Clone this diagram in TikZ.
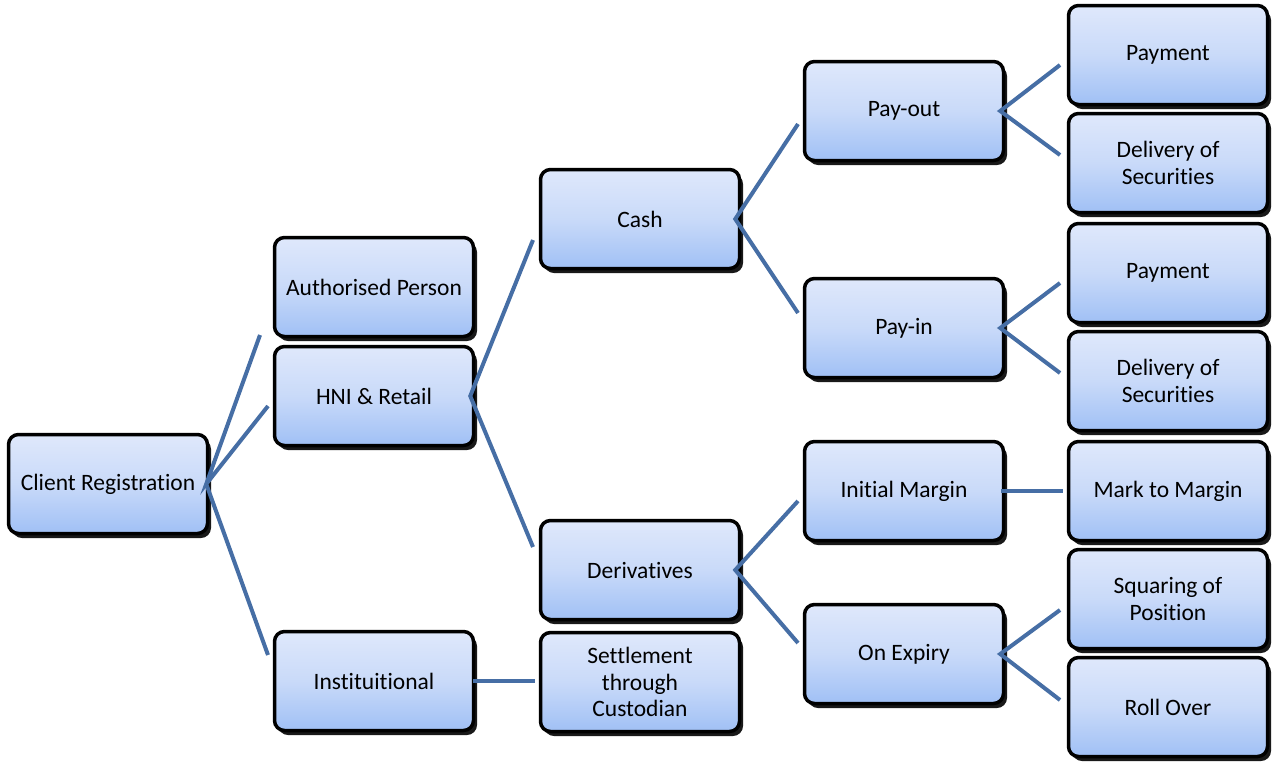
\documentclass[tikz,border=0pt]{standalone}
\usepackage{fontspec}
\setmainfont{Carlito}[Ligatures=NoCommon]
\usetikzlibrary{shadows}
\definecolor{boxtop}{RGB}{223,232,251}
\definecolor{boxmid}{RGB}{201,218,249}
\definecolor{boxbot}{RGB}{160,192,245}
\definecolor{linkblue}{RGB}{70,110,165}
\tikzset{
  box/.style={draw=black, line width=3.5pt, rounded corners=10pt,
    top color=boxtop, bottom color=boxbot, middle color=boxmid,
    minimum width=199pt, minimum height=99pt, inner sep=2pt,
    align=center, text=black,
    font=\fontsize{23.5}{26.5}\selectfont,
    drop shadow={shadow xshift=3.5pt, shadow yshift=-4.5pt, fill=black, opacity=0.9}},
  link/.style={draw=linkblue, line width=4pt}
}
\begin{document}
\begin{tikzpicture}[x=1pt,y=-1pt]
\useasboundingbox (0,0) rectangle (1277,764);
% column 1
\node[box] (client) at (108,484) {Client Registration};
% column 2
\node[box] (auth) at (374,287) {Authorised Person};
\node[box] (hni) at (374,396) {HNI \& Retail};
\node[box] (inst) at (374,681) {Instituitional};
% column 3
\node[box] (cash) at (640,219) {Cash};
\node[box] (deriv) at (640,570) {Derivatives};
\node[box] (settle) at (640,682) {Settlement\\through\\Custodian};
% column 4
\node[box] (payout) at (904,111) {Pay-out};
\node[box] (payin) at (904,328) {Pay-in};
\node[box] (initm) at (904,491) {Initial Margin};
\node[box] (expiry) at (904,654) {On Expiry};
% column 5
\node[box] (pay1) at (1168,55) {Payment};
\node[box] (del1) at (1168,163) {Delivery of\\Securities};
\node[box] (pay2) at (1168,273) {Payment};
\node[box] (del2) at (1168,381) {Delivery of\\Securities};
\node[box] (mtm) at (1168,491) {Mark to Margin};
\node[box] (square) at (1168,599) {Squaring of\\Position};
\node[box] (roll) at (1168,707) {Roll Over};
% free ends of connectors
\coordinate (c1a) at (260,335);
\coordinate (c1b) at (268,406);
\coordinate (c1c) at (268,655);
\coordinate (h1) at (533,240);
\coordinate (h2) at (533,547);
\coordinate (i1) at (535,681);
\coordinate (k1) at (798,124);
\coordinate (k2) at (798,313);
\coordinate (d1) at (798,501);
\coordinate (d2) at (798,643);
\coordinate (po1) at (1060,65);
\coordinate (po2) at (1060,155);
\coordinate (pi1) at (1060,283);
\coordinate (pi2) at (1060,373);
\coordinate (m1) at (1063,491);
\coordinate (e1) at (1060,610);
\coordinate (e2) at (1060,700);
% connectors
\draw[link] (c1a) -- ([xshift=-3pt]client.east) -- (c1b);
\draw[link] ([xshift=-3pt]client.east) -- (c1c);
\draw[link] (h1) -- ([xshift=-5pt]hni.east) -- (h2);
\draw[link] ([xshift=-2pt]inst.east) -- (i1);
\draw[link] (k1) -- ([xshift=-6pt]cash.east) -- (k2);
\draw[link] (d1) -- ([xshift=-6pt]deriv.east) -- (d2);
\draw[link] (po1) -- ([xshift=-5pt]payout.east) -- (po2);
\draw[link] (pi1) -- ([xshift=-5pt]payin.east) -- (pi2);
\draw[link] ([xshift=-4pt]initm.east) -- (m1);
\draw[link] (e1) -- ([xshift=-5pt]expiry.east) -- (e2);
\end{tikzpicture}
\end{document}
